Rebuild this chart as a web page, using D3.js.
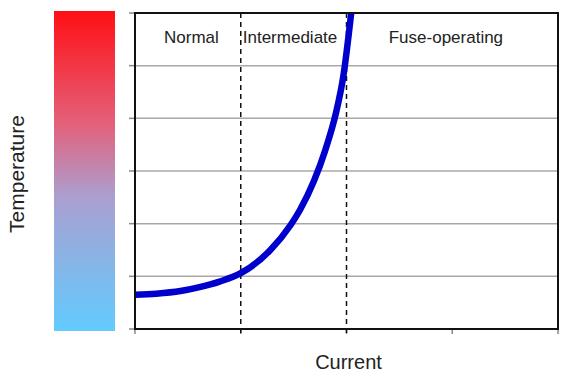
<!DOCTYPE html>
<html>
<head>
<meta charset="utf-8">
<script src="https://cdn.jsdelivr.net/npm/d3@7"></script>
<style>
  body { margin: 0; background: #fff; }
  text { font-family: "Liberation Sans", Arial, sans-serif; fill: #222; }
</style>
</head>
<body>
<div id="chart"></div>
<script>
// curve samples (current in tick units, temperature in gridline units)
const current = [0, 0.2, 0.43, 0.6, 0.8, 1.0, 1.28, 1.47, 1.56, 1.69, 1.8, 1.9, 1.97, 2.05];
const temperature = [0.65, 0.67, 0.72, 0.79, 0.9, 1.06, 1.5, 1.97, 2.26, 2.8, 3.4, 4.1, 4.8, 6.1];

const regions = ["Normal", "Intermediate", "Fuse-operating"];
const regionCenters = [0.534, 1.466, 2.94];
const boundaries = [1, 2];
const xTicks = [0, 1, 2, 3, 4];
const yTicks = [0, 1, 2, 3, 4, 5, 6];

const W = 570, H = 380;
const margin = { top: 13, right: 12, bottom: 51, left: 135 };

const svg = d3.select('#chart').append('svg')
    .attr('width', W)
    .attr('height', H);

const x = d3.scaleLinear().domain([0, 4]).range([margin.left, W - margin.right]);
const y = d3.scaleLinear().domain([0, 6]).range([H - margin.bottom, margin.top]);

// colour bar for temperature
const grad = svg.append('defs').append('linearGradient')
    .attr('id', 'tempGrad')
    .attr('x1', 0).attr('y1', 0).attr('x2', 0).attr('y2', 1);
grad.selectAll('stop')
    .data([[0, '#ff0f14'], [0.35, '#e4607a'], [0.58, '#ab9fd0'], [1, '#62cbff']])
    .enter().append('stop')
    .attr('offset', d => d[0])
    .attr('stop-color', d => d[1]);

svg.append('rect')
    .attr('x', 54).attr('y', 11)
    .attr('width', 61).attr('height', 320)
    .attr('fill', 'url(#tempGrad)');

// clip for the curve
svg.append('clipPath').attr('id', 'plotClip')
    .append('rect')
    .attr('x', x(0)).attr('y', y(6) - 1)
    .attr('width', x(4) - x(0)).attr('height', y(0) - y(6) + 1);

// gridlines
svg.append('g')
    .selectAll('line')
    .data(yTicks.slice(1, -1))
    .enter().append('line')
    .attr('x1', x(0)).attr('x2', x(4))
    .attr('y1', d => y(d)).attr('y2', d => y(d))
    .attr('stroke', '#a8a8a8')
    .attr('stroke-width', 1.5);

// left ticks
svg.append('g')
    .selectAll('line')
    .data(yTicks)
    .enter().append('line')
    .attr('x1', x(0) - 6).attr('x2', x(0))
    .attr('y1', d => y(d)).attr('y2', d => y(d))
    .attr('stroke', '#888')
    .attr('stroke-width', 1.5);

// bottom ticks
svg.append('g')
    .selectAll('line')
    .data(xTicks)
    .enter().append('line')
    .attr('x1', d => x(d)).attr('x2', d => x(d))
    .attr('y1', y(0)).attr('y2', y(0) + 5)
    .attr('stroke', '#888')
    .attr('stroke-width', 1.5);

// region boundaries
svg.append('g')
    .selectAll('line')
    .data(boundaries)
    .enter().append('line')
    .attr('x1', d => x(d)).attr('x2', d => x(d))
    .attr('y1', y(6)).attr('y2', y(0) + 5)
    .attr('stroke', '#111')
    .attr('stroke-width', 1.5)
    .attr('stroke-dasharray', '5,4');

// curve
const line = d3.line()
    .x((d, i) => x(current[i]))
    .y(d => y(d))
    .curve(d3.curveMonotoneX);

svg.append('path')
    .datum(temperature)
    .attr('clip-path', 'url(#plotClip)')
    .attr('d', line)
    .attr('fill', 'none')
    .attr('stroke', '#0000cc')
    .attr('stroke-width', 6.5);

// plot frame
svg.append('rect')
    .attr('x', x(0)).attr('y', y(6))
    .attr('width', x(4) - x(0)).attr('height', y(0) - y(6))
    .attr('fill', 'none')
    .attr('stroke', '#111')
    .attr('stroke-width', 2);

// region labels
svg.append('g')
    .selectAll('text')
    .data(regions)
    .enter().append('text')
    .attr('x', (d, i) => x(regionCenters[i]))
    .attr('y', 43)
    .attr('text-anchor', 'middle')
    .style('font-size', '17px')
    .text(d => d);

// axis labels
svg.append('text')
    .attr('x', x(2) + 2)
    .attr('y', 369)
    .attr('text-anchor', 'middle')
    .style('font-size', '20px')
    .text('Current');

svg.append('text')
    .attr('transform', 'translate(24, 174) rotate(-90)')
    .attr('text-anchor', 'middle')
    .style('font-size', '21px')
    .text('Temperature');
</script>
</body>
</html>
